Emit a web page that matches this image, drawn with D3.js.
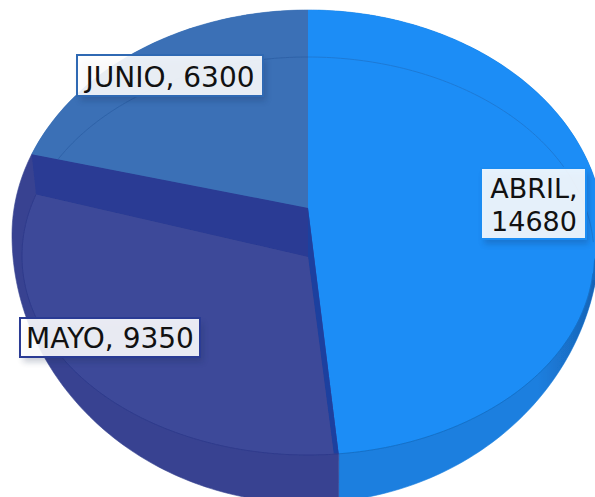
<!DOCTYPE html>
<html><head><meta charset="utf-8">
<script src="https://cdn.jsdelivr.net/npm/d3@7/dist/d3.min.js"></script>
<style>html,body{margin:0;padding:0;background:#fff;overflow:hidden}svg{display:block}</style>
</head><body><div id="c"></div>
<script>
const categories = ["ABRIL","MAYO","JUNIO"];
const values = [14680,9350,6300];
const labelLines = [["ABRIL,","14680"],["MAYO, 9350"],["JUNIO, 6300"]];
const faceColors = ["#1a8df6","#3d4a99","#3a70b6"];
const sideColors = ["#1b7fdf","#374391","#3a70b6"];
const borderColors = ["#1b8cf2","#2a3b94","#2f69b3"];

const W=595,H=497;
const svg=d3.select("#c").append("svg").attr("width",W).attr("height",H).attr("viewBox",[0,0,W,H]);
const defs=svg.append("defs");
const shadow=defs.append("filter").attr("id","sh").attr("x","-20%").attr("y","-30%").attr("width","140%").attr("height","170%");
shadow.append("feGaussianBlur").attr("stdDeviation",3);
const soft=defs.append("filter").attr("id","soft");
soft.append("feGaussianBlur").attr("stdDeviation",0.45);

const TAU=Math.PI*2, deg=Math.PI/180;
const pie=d3.pie().sort(null).value(d=>d)(values);
const line=d3.line();

// projected outlines of the tilted disc
const outer=t=>{const c=Math.cos(t);return c>=0?[308+296*Math.sin(t),235-225*c]:[306+294*Math.sin(t),235-268*c];};
const rim=t=>[308+286*Math.sin(t),256-199*Math.cos(t)];
const warpO=a=>a-6*deg*Math.sin(a);
const warpR=a=>a-(Math.sin(a)<0?14.5:4)*deg*Math.sin(a);
const sweep=(f,a0,a1)=>{const n=Math.ceil(Math.abs(a1-a0)/(1*deg));return d3.range(n+1).map(i=>f(a0+(a1-a0)*i/n));};

const apex=[308,208], apexLow=[308,257];
const A=pie[0],M=pie[1],J=pie[2];
const split=M.endAngle, turn=A.endAngle;
const rimTurn=rim(warpR(turn)), outTurn=outer(warpO(turn));
const rimTurnIn=[rimTurn[0]-5,rimTurn[1]];
const outSplit=outer(warpO(split));
const faceSplitT=warpR(split)-11.2*deg;
const rimFaceSplit=rim(faceSplitT);
const kink=[rimFaceSplit[0]-1,rimFaceSplit[1]-10];

const sectors=[
  [apex,rimTurn,outTurn,...sweep(a=>outer(warpO(a)),turn,0)],
  [apex,rimTurn,outTurn,...sweep(a=>outer(warpO(a)),turn,split)],
  [apex,...sweep(a=>outer(warpO(a)),split,TAU)]
];

const rimPts=sweep(rim,0,TAU);
const clip=defs.append("clipPath").attr("id","faceClip");
clip.append("path").attr("d",line(rimPts)+"Z");
clip.append("rect").attr("x",0).attr("y",0).attr("width",W).attr("height",280);

const g=svg.append("g").attr("filter","url(#soft)");
// side walls
g.selectAll("path.side").data(pie).join("path").attr("class","side")
  .attr("d",(d,i)=>line(sectors[i])+"Z").attr("fill",(d,i)=>sideColors[i])
  .attr("stroke",(d,i)=>sideColors[i]).attr("stroke-width",0.6);
// Abril & Junio faces
g.append("path").attr("d",line(sectors[0])+"Z").attr("fill",faceColors[0]).attr("clip-path","url(#faceClip)");
g.append("path").attr("d",line(sectors[2])+"Z").attr("fill",faceColors[2]);

// Abril side darkening towards the right
const grad=defs.append("linearGradient").attr("id","edge").attr("x1",0).attr("x2",1);
grad.append("stop").attr("offset","0.75").attr("stop-color","#143f80").attr("stop-opacity",0);
grad.append("stop").attr("offset","1").attr("stop-color","#143f80").attr("stop-opacity",0.5);
const ringPts=[...sweep(a=>outer(warpO(a)),turn,Math.PI*0.53),...sweep(a=>rim(warpR(a)),Math.PI*0.53,turn)];
g.append("path").attr("d",line(ringPts)+"Z").attr("fill","url(#edge)");

// rim lines
const rimAbril=sweep(a=>rim(warpR(a)),0,Math.PI*0.5);
g.append("path").attr("d",line(rimAbril)).attr("fill","none").attr("stroke","#1a7ad6").attr("stroke-width",1);
const rimAbrilLow=sweep(a=>rim(warpR(a)),Math.PI*0.55,turn);
g.append("path").attr("d",line(rimAbrilLow)).attr("fill","none").attr("stroke","#1870c8").attr("stroke-width",1);
const rimJunio=sweep(a=>rim(warpR(a)),split,TAU);
g.append("path").attr("d",line(rimJunio)).attr("fill","none").attr("stroke","#2f62a8").attr("stroke-width",1);

// Mayo inner wall and face
g.append("path").attr("d",line([outSplit,apex,apexLow,rimFaceSplit,kink])+"Z").attr("fill","#2a3b94");
g.append("path").attr("d",line([apex,rimTurn,rimTurnIn,apexLow])+"Z").attr("fill","#1f3f9f");
const mayoFace=[apexLow,rimTurnIn,...sweep(a=>rim(a),warpR(turn),faceSplitT),rimFaceSplit];
g.append("path").attr("d",line(mayoFace)+"Z").attr("fill",faceColors[1]);
g.append("path").attr("d",line(sweep(a=>rim(a),warpR(turn),faceSplitT))).attr("fill","none").attr("stroke","#2f3a8c").attr("stroke-width",1);

// labels
const boxes=[
  {x:481,y:168,w:105,h:71,lx:534,ly:[198,231],fs:[27,27]},
  {x:20,y:318,w:180,h:39,lx:110,ly:[348],fs:[28]},
  {x:77,y:55,w:186,h:41,lx:170,ly:[87],fs:[28]}
];
const lab=svg.selectAll("g.lab").data(pie).join("g").attr("class","lab");
lab.append("rect").attr("x",(d,i)=>boxes[i].x+3).attr("y",(d,i)=>boxes[i].y+5)
  .attr("width",(d,i)=>boxes[i].w).attr("height",(d,i)=>boxes[i].h)
  .attr("fill","#10204a").attr("opacity",0.22).attr("filter","url(#sh)");
lab.append("rect").attr("x",(d,i)=>boxes[i].x).attr("y",(d,i)=>boxes[i].y)
  .attr("width",(d,i)=>boxes[i].w).attr("height",(d,i)=>boxes[i].h)
  .attr("fill","#fff").attr("fill-opacity",0.89)
  .attr("stroke",(d,i)=>borderColors[i]).attr("stroke-width",2);
lab.each(function(d,i){
  d3.select(this).selectAll("text").data(labelLines[i]).join("text")
    .attr("x",boxes[i].lx).attr("y",(t,k)=>boxes[i].ly[k])
    .attr("text-anchor","middle")
    .attr("font-family","'DejaVu Sans',Verdana,sans-serif")
    .attr("font-size",(t,k)=>boxes[i].fs[k]).attr("fill","#111").text(t=>t);
});
</script></body></html>
